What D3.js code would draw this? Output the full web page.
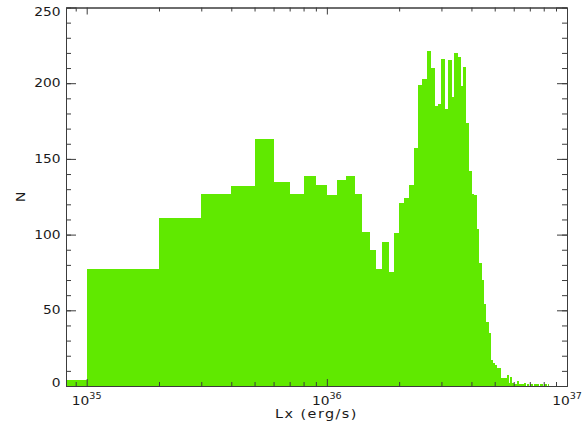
<!DOCTYPE html>
<html>
<head>
<meta charset="utf-8">
<script src="https://cdn.jsdelivr.net/npm/d3@7"></script>
<style>
body { margin: 0; background: #fff; }
text { font-family: "DejaVu Sans", sans-serif; fill: #1a1a1a; }
</style>
</head>
<body>
<script>
// histogram of Lx, bins of 1e35 erg/s starting at 0
var binWidth = 1e35;
var counts = [4, 77, 111, 127, 132, 163, 135, 127, 139, 133,
  126, 136, 139, 127, 102, 90, 77, 95, 75, 101,
  121, 124, 133, 157, 199, 203, 221, 210, 185, 186,
  216, 183, 215, 191, 220, 217, 198, 211, 174, 142,
  127, 126, 104, 81, 70, 54, 42, 35, 17, 15,
  14, 12, 12, 5, 5, 5, 7, 2, 6, 2,
  1, 1, 3, 1, 1, 1, 2, 0, 1, 0,
  1, 1, 0, 1, 1, 1, 0, 1, 1, 0,
  1, 1, 0, 1, 0];
var yMajor = [0, 50, 100, 150, 200, 250];
var xDecades = [35, 36, 37];

var W = 587, H = 426;
var plotL = 66, plotR = 567, plotT = 7.5, plotB = 386;
var xMin = 8.2e34, xMax = 1e37;
var sx = 1.2; // glyphs in the original are wide

var x = d3.scaleLog().domain([xMin, xMax]).range([plotL, plotR]);
var y = d3.scaleLinear().domain([0, 250]).range([plotB, plotT]);

var svg = d3.select("body").append("svg")
    .attr("width", W).attr("height", H);

svg.append("clipPath").attr("id", "plot")
  .append("rect").attr("x", plotL).attr("y", plotT)
  .attr("width", plotR - plotL).attr("height", plotB - plotT);

var bins = counts.map(function(c, i) {
  return {x0: i * binWidth, x1: (i + 1) * binWidth, n: c};
});

svg.append("g").attr("clip-path", "url(#plot)")
  .selectAll("rect").data(bins.filter(function(d) { return d.n > 0; }))
  .enter().append("rect")
  .attr("x", function(d) { return x(Math.max(d.x0, xMin)); })
  .attr("width", function(d) { return x(d.x1) - x(Math.max(d.x0, xMin)) + 0.4; })
  .attr("y", function(d) { return y(d.n); })
  .attr("height", function(d) { return plotB - y(d.n); })
  .attr("fill", "#60e900")
  .attr("shape-rendering", "crispEdges");

// minor tick values on the log axis
var xMinor = [];
[34, 35, 36].forEach(function(e) {
  for (var k = 2; k <= 9; k++) {
    var v = k * Math.pow(10, e);
    if (v >= xMin && v <= xMax) xMinor.push(v);
  }
});
var xMajorVals = xDecades.map(function(e) { return Math.pow(10, e); });
var yMinor = d3.range(0, 251, 10);

function styleAxis(g) {
  g.selectAll("path,line").attr("stroke", "#3c3c3c");
  g.selectAll("text").remove();
}

svg.append("g").attr("transform", "translate(" + plotL + ",0)")
  .call(d3.axisLeft(y).tickValues(yMinor).tickSize(-5).tickSizeOuter(0)).call(styleAxis);
svg.append("g").attr("transform", "translate(" + plotL + ",0)")
  .call(d3.axisLeft(y).tickValues(yMajor).tickSize(-10).tickSizeOuter(0)).call(styleAxis);
svg.append("g").attr("transform", "translate(" + plotR + ",0)")
  .call(d3.axisRight(y).tickValues(yMinor).tickSize(-5).tickSizeOuter(0)).call(styleAxis);
svg.append("g").attr("transform", "translate(" + plotR + ",0)")
  .call(d3.axisRight(y).tickValues(yMajor).tickSize(-10).tickSizeOuter(0)).call(styleAxis);

svg.append("g").attr("transform", "translate(0," + plotB + ")")
  .call(d3.axisBottom(x).tickValues(xMinor).tickSize(-4).tickSizeOuter(0)).call(styleAxis);
svg.append("g").attr("transform", "translate(0," + plotB + ")")
  .call(d3.axisBottom(x).tickValues(xMajorVals).tickSize(-7).tickSizeOuter(0)).call(styleAxis);
svg.append("g").attr("transform", "translate(0," + plotT + ")")
  .call(d3.axisTop(x).tickValues(xMinor).tickSize(-4).tickSizeOuter(0)).call(styleAxis);
svg.append("g").attr("transform", "translate(0," + plotT + ")")
  .call(d3.axisTop(x).tickValues(xMajorVals).tickSize(-7).tickSizeOuter(0)).call(styleAxis);

// y tick labels, end labels kept inside the frame
svg.append("g").selectAll("text").data(yMajor).enter().append("text")
  .attr("transform", function(d) {
    var yy = y(d) + 4;
    if (d === 250) yy += 4;
    if (d === 0) yy -= 3;
    return "translate(" + (plotL - 5.5) + "," + yy + ") scale(" + sx + ",1)";
  })
  .attr("text-anchor", "end")
  .style("font-size", "11.5px")
  .text(function(d) { return d; });

// x tick labels 10^n
var xl = svg.append("g").selectAll("text").data(xDecades).enter().append("text")
  .attr("transform", function(d) {
    return "translate(" + x(Math.pow(10, d)) + ",405) scale(" + sx + ",1)";
  })
  .attr("text-anchor", "middle")
  .style("font-size", "11.5px");
xl.append("tspan").text("10");
xl.append("tspan").attr("dy", -6).style("font-size", "8px")
  .text(function(d) { return d; });

svg.append("text")
  .attr("transform", "translate(" + ((plotL + plotR) / 2) + ",418) scale(" + sx + ",1)")
  .attr("text-anchor", "middle")
  .style("font-size", "12px")
  .style("letter-spacing", "1.2px")
  .text("Lx (erg/s)");

svg.append("text")
  .attr("transform", "translate(25," + ((plotT + plotB) / 2) + ") rotate(-90) scale(" + sx + ",1)")
  .attr("text-anchor", "middle")
  .style("font-size", "12px")
  .text("N");
</script>
</body>
</html>
